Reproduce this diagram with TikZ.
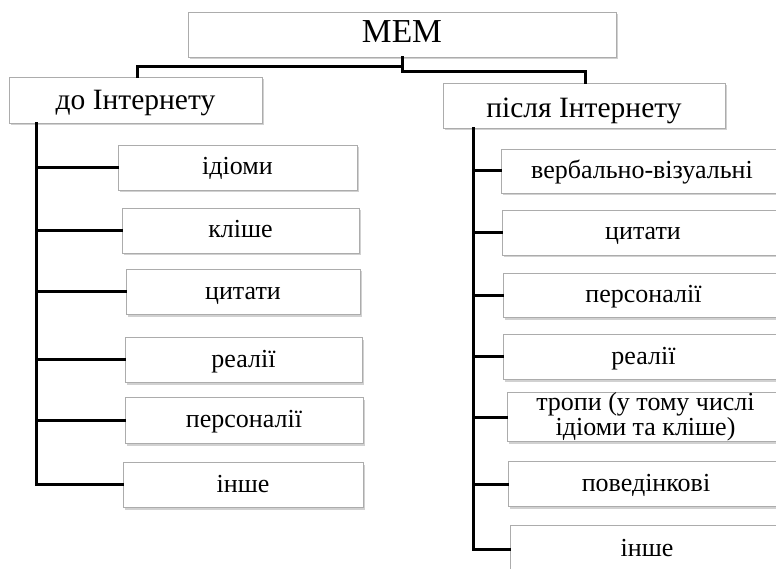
\documentclass[tikz,border=0pt]{standalone}
\usepackage{fontspec}
\setmainfont{Liberation Serif}
\usetikzlibrary{shadows}
\begin{document}
\begin{tikzpicture}[x=1pt,y=-1pt,
  box/.style={draw=gray!65, line width=0.8pt, fill=white, inner sep=0pt,
    minimum height=45pt,
    drop shadow={shadow xshift=1.5pt, shadow yshift=-2.5pt, fill=gray!60, opacity=0.6}},
  top/.style={box, font=\fontsize{33.5}{36}\selectfont, text height=23pt, text depth=6pt},
  head/.style={box, font=\fontsize{29.5}{32}\selectfont, text height=26pt, text depth=6pt},
  leaf/.style={box, font=\fontsize{26}{22}\selectfont, text height=20pt, text depth=5pt},
  twoline/.style={box, font=\fontsize{26}{22}\selectfont, align=center},
  link/.style={line width=3pt, line cap=rect}]
\useasboundingbox (0,0) rectangle (776,569);
\clip (0,0) rectangle (776,569);

% root and the two branches
\node[top, minimum width=428pt] (mem) at (402,34.5) {МЕМ};
\node[head, minimum width=253pt, minimum height=46pt] (pre) at (135.5,100) {до Інтернету};
\node[head, text depth=1pt, minimum width=282pt] (post) at (584,105.5) {після Інтернету};

% left column
\node[leaf, minimum width=239pt] (l1) at (237.5,167.5) {ідіоми};
\node[leaf, minimum width=237pt] (l2) at (240.5,230.5) {кліше};
\node[leaf, minimum width=234pt] (l3) at (243,291.5) {цитати};
\node[leaf, minimum width=237pt] (l4) at (243.5,359.5) {реалії};
\node[leaf, minimum width=238pt, minimum height=46pt] (l5) at (244,420) {персоналії};
\node[leaf, minimum width=240pt] (l6) at (243,484.5) {інше};

% right column
\node[leaf, minimum width=282pt, minimum height=44pt] (r1) at (642,171) {вербально-візуальні};
\node[leaf, minimum width=282pt] (r2) at (643,232.5) {цитати};
\node[leaf, minimum width=281pt, minimum height=44pt] (r3) at (643.5,295) {персоналії};
\node[leaf, minimum width=281pt] (r4) at (643.5,356.5) {реалії};
\node[twoline, minimum width=277pt, minimum height=44pt] (r5) at (645.5,417) {тропи (у тому числі\\ідіоми та кліше)};
\node[leaf, minimum width=276pt] (r6) at (646,484) {поведінкові};
\node[leaf, minimum width=274pt, minimum height=48pt] (r7) at (647,549) {інше};

% root to branches
\draw[link] (mem.south) -- (mem.south |- 0,67) -| ([xshift=1.5pt]pre.north);
\draw[link] (mem.south |- 0,66) -- (mem.south |- 0,72) -| ([xshift=1pt]post.north);

% left trunk
\coordinate (lt) at ([xshift=28pt]pre.south west);
\draw[link] (lt) |- (l6.west);
\foreach \n in {l1,l2,l3,l4,l5}
  \draw[link] (lt |- \n.west) -- (\n.west);

% right trunk
\coordinate (rt) at ([xshift=31pt]post.south west);
\draw[link] (rt) |- (r7.west);
\foreach \n in {r1,r2,r3,r4,r5,r6}
  \draw[link] (rt |- \n.west) -- (\n.west);
\end{tikzpicture}
\end{document}
